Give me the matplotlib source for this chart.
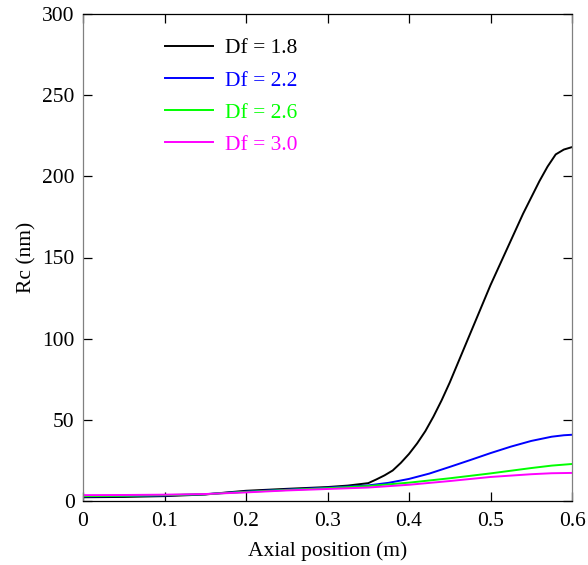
import matplotlib

matplotlib.use('Agg')
import matplotlib.pyplot as plt

# Axial position (m) and Rc (nm)
x_df18 = [0.0, 0.05, 0.1, 0.15, 0.175, 0.2, 0.25, 0.3, 0.325, 0.35, 0.36, 0.37,
          0.38, 0.39, 0.4, 0.41, 0.42, 0.43, 0.44, 0.45, 0.46, 0.47, 0.48, 0.49,
          0.5, 0.51, 0.52, 0.53, 0.54, 0.55, 0.56, 0.57, 0.58, 0.59, 0.6]
rc_df18 = [2.3, 2.5, 3.0, 4.0, 5.2, 6.3, 7.5, 8.6, 9.5, 11.0, 13.3, 15.8,
           18.8, 23.5, 29.0, 35.5, 43.0, 52.0, 62.0, 73.0, 85.0, 97.0, 109.0, 121.0,
           133.0, 144.0, 155.0, 166.0, 177.0, 187.0, 197.0, 206.0, 213.5, 216.5, 218.0]

x_df22 = [0.0, 0.05, 0.1, 0.15, 0.175, 0.2, 0.25, 0.3, 0.35, 0.375, 0.4,
          0.425, 0.45, 0.475, 0.5, 0.525, 0.55, 0.575, 0.59, 0.6]
rc_df22 = [2.8, 3.0, 3.4, 4.2, 5.0, 5.8, 7.0, 8.2, 9.6, 11.2, 13.6,
           16.9, 21.0, 25.2, 29.5, 33.5, 37.0, 39.6, 40.5, 40.8]

x_df26 = [0.0, 0.05, 0.1, 0.15, 0.175, 0.2, 0.25, 0.3, 0.35, 0.4, 0.45, 0.5,
          0.55, 0.575, 0.6]
rc_df26 = [3.0, 3.2, 3.6, 4.2, 4.9, 5.6, 6.8, 7.9, 9.2, 11.3, 14.0, 17.0,
           20.3, 21.8, 22.8]

x_df30 = [0.0, 0.05, 0.1, 0.15, 0.175, 0.2, 0.25, 0.3, 0.35, 0.4, 0.45, 0.5,
          0.55, 0.575, 0.6]
rc_df30 = [3.6, 3.7, 3.9, 4.3, 4.8, 5.3, 6.5, 7.4, 8.3, 10.0, 12.3, 14.8,
           16.5, 17.1, 17.3]

labels = ['Df = 1.8', 'Df = 2.2', 'Df = 2.6', 'Df = 3.0']
colors = ['#000000', '#0000ff', '#00ff00', '#ff00ff']

x_ticks = [0, 0.1, 0.2, 0.3, 0.4, 0.5, 0.6]
x_tick_labels = ['0', '0.1', '0.2', '0.3', '0.4', '0.5', '0.6']
y_ticks = [0, 50, 100, 150, 200, 250, 300]

FS = 15.5

plt.rcParams['font.family'] = ['Liberation Serif', 'DejaVu Serif']
plt.rcParams['font.size'] = FS

fig = plt.figure(figsize=(5.88, 5.65), dpi=100)
ax = fig.add_axes([83 / 588, 64 / 565, 489 / 588, 487 / 565])

series = [(x_df18, rc_df18), (x_df22, rc_df22), (x_df26, rc_df26), (x_df30, rc_df30)]
for (xs, ys), label, color in zip(series, labels, colors):
    ax.plot(xs, ys, color=color, linewidth=1.4, label=label)

ax.set_xlim(0, 0.6)
ax.set_ylim(0, 300)
ax.set_xticks(x_ticks)
ax.set_xticklabels(x_tick_labels)
ax.set_yticks(y_ticks)
ax.tick_params(direction='in', length=6.5, width=0.9, top=True, right=True,
               labelsize=FS)
ax.tick_params(axis='x', pad=8)
ax.tick_params(axis='y', pad=6)

for side in ['top', 'bottom']:
    ax.spines[side].set_color('black')
    ax.spines[side].set_linewidth(0.9)
for side in ['left', 'right']:
    ax.spines[side].set_color('#808080')
    ax.spines[side].set_linewidth(0.9)

ax.set_xlabel('Axial position (m)', fontsize=FS, labelpad=7)
ax.set_ylabel('Rc (nm)', fontsize=FS, labelpad=4)

leg = ax.legend(loc='upper left', bbox_to_anchor=(0.168, 0.95), frameon=False,
                borderaxespad=0, borderpad=0, handlelength=2.2, handletextpad=0.6,
                labelspacing=0.56, fontsize=FS, labelcolor='linecolor')

fig.savefig('out.png', dpi=100)
